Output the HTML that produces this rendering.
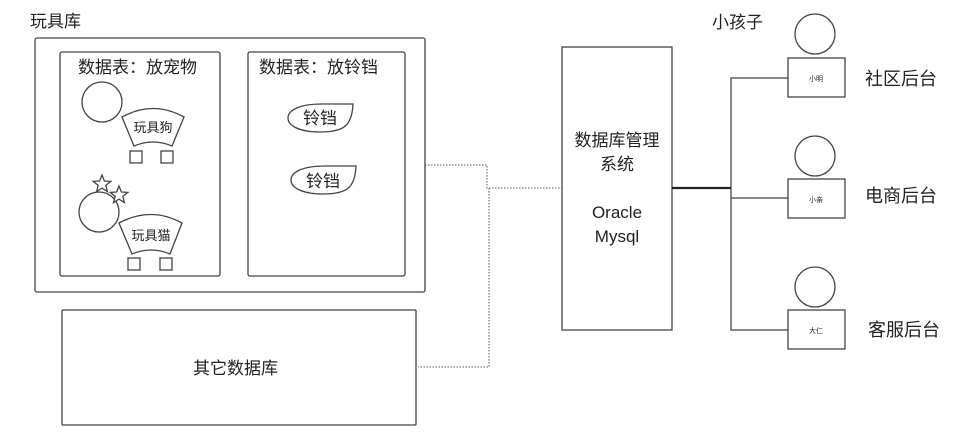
<!DOCTYPE html>
<html><head><meta charset="utf-8"><style>
html,body{margin:0;padding:0;background:#fff;}
svg{display:block;}
text{font-family:"Liberation Sans","Noto Sans CJK SC",sans-serif;fill:#222;}
</style></head><body>
<svg width="960" height="435" viewBox="0 0 960 435" xmlns="http://www.w3.org/2000/svg">
<g fill="none" stroke="#444" stroke-width="1.3">
<rect x="35" y="38" width="390" height="254" rx="2"/>
<rect x="60" y="52" width="160" height="224" rx="2"/>
<rect x="248" y="52" width="157" height="224" rx="2"/>
<rect x="62" y="310" width="354" height="115" rx="1"/>
<rect x="562" y="47" width="110" height="283"/>
<circle cx="102" cy="102" r="20"/>
<path d="M122,117 Q153,100 184,117 L172,146 Q153,138 134,146 Z"/>
<rect x="130" y="151" width="12" height="12"/>
<rect x="161" y="151" width="12" height="12"/>
<circle cx="99" cy="212" r="20"/>
<path d="M119,223 Q151,206 182,223 L170,254 Q151,246 132,254 Z"/>
<rect x="128" y="258" width="12" height="12"/>
<rect x="160" y="258" width="12" height="12"/>
<path d="M102,175 l2.4,6 6.4,0.4 -5,4 1.6,6.2 -5.4,-3.5 -5.4,3.5 1.6,-6.2 -5,-4 6.4,-0.4 Z" fill="#fff"/>
<path d="M119,186 l2.4,6 6.4,0.4 -5,4 1.6,6.2 -5.4,-3.5 -5.4,3.5 1.6,-6.2 -5,-4 6.4,-0.4 Z" fill="#fff"/>
<path d="M353,104 L322,104 C300,104 288,110 288,118 C288,126 300,132 320,132 C345,132 352,125 353,104 Z"/>
<path d="M356,166 L325,166 C303,166 291,172 291,180 C291,188 303,194 323,194 C348,194 355,187 356,166 Z"/>
<circle cx="815" cy="34" r="20"/>
<rect x="788" y="58" width="57" height="39"/>
<circle cx="815" cy="156" r="20"/>
<rect x="788" y="179" width="57" height="39"/>
<circle cx="815" cy="287" r="20"/>
<rect x="788" y="310" width="57" height="39"/>
<path d="M788,78 H731 V330 H788 M731,198 H788"/>
</g>
<path d="M672,188 H731" stroke="#222" stroke-width="2.2"/>
<g fill="none" stroke="#555" stroke-width="1" stroke-dasharray="1.5,1.5">
<path d="M425,165 H487 V188 H562"/>
<path d="M489,188 V367 H418"/>
</g>
<g font-size="17">
<text x="30" y="27">玩具库</text>
<text x="78" y="73">数据表：放宠物</text>
<text x="259" y="73">数据表：放铃铛</text>
<text x="712" y="28">小孩子</text>
<text x="193" y="374">其它数据库</text>
<text x="617" y="146" text-anchor="middle">数据库管理</text>
<text x="617" y="170" text-anchor="middle">系统</text>
<text x="617" y="218" text-anchor="middle">Oracle</text>
<text x="617" y="242" text-anchor="middle">Mysql</text>
<text x="320" y="124" text-anchor="middle">铃铛</text>
<text x="323" y="187" text-anchor="middle">铃铛</text>
</g>
<g font-size="18">
<text x="865" y="85">社区后台</text>
<text x="865" y="202">电商后台</text>
<text x="868" y="336">客服后台</text>
</g>
<g font-size="13">
<text x="153" y="132" text-anchor="middle">玩具狗</text>
<text x="151" y="240" text-anchor="middle">玩具猫</text>
</g>
<g font-size="7">
<text x="816" y="81" text-anchor="middle">小明</text>
<text x="816" y="202" text-anchor="middle">小亲</text>
<text x="816" y="333" text-anchor="middle">大仁</text>
</g>
</svg>
</body></html>
